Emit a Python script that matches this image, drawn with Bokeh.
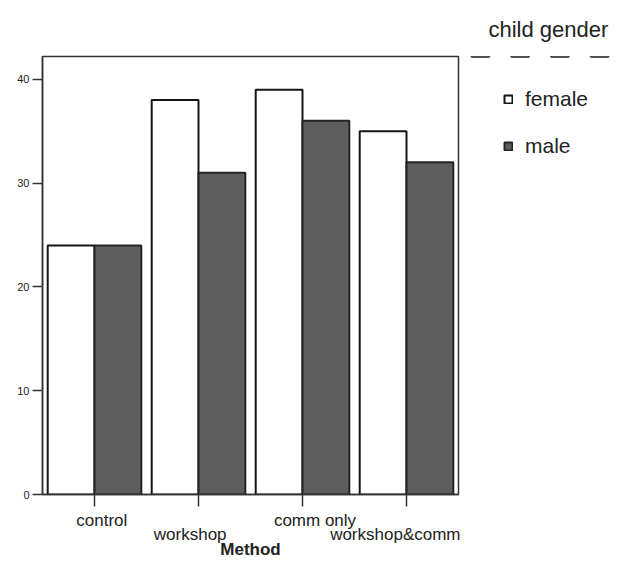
from bokeh.plotting import figure
from bokeh.layouts import row
from bokeh.models import (Range1d, ColumnDataSource, FixedTicker,
                          LinearAxis, Legend, LegendItem, Title)
from bokeh.transform import dodge
from bokeh.embed import file_html
from bokeh.resources import INLINE

# ---- data ----
methods = ["control", "workshop", "comm only", "workshop&comm"]
female = [24, 38, 39, 35]
male = [24, 31, 36, 32]
y_ticks = [0, 10, 20, 30, 40]
legend_title = "child gender"
series_names = ["female", "male"]
x_title = "Method"

FONT = "Liberation Sans"
TXT = "#222222"
H = 561
W_MAIN, W_LEG = 460, 159
F_STYLE = dict(fill_color="white", line_color="#151515", line_width=2)
M_STYLE = dict(fill_color="#5e5e5e", line_color="#252525", line_width=2)

# category slot centres on a unit-width-per-category scale
centers = [i + 0.5 for i in range(len(methods))]
src = ColumnDataSource(dict(method=methods, pos=centers, female=female, male=male))

p = figure(width=W_MAIN, height=H,
           x_range=Range1d(0, len(methods)),
           y_range=Range1d(0, 42.2),
           output_backend="svg", toolbar_location=None,
           min_border_left=42, min_border_right=2,
           min_border_top=54, min_border_bottom=67)

p.xgrid.visible = False
p.ygrid.visible = False
p.outline_line_color = "#333333"
p.outline_line_width = 1.5
p.background_fill_color = "white"
p.border_fill_color = "white"

p.vbar(x=dodge("pos", -0.225), top="female", width=0.45, source=src, **F_STYLE)
p.vbar(x=dodge("pos", 0.225), top="male", width=0.45, source=src, **M_STYLE)

# y axis
ya = p.yaxis[0]
ya.ticker = FixedTicker(ticks=y_ticks)
ya.major_tick_out = 10
ya.major_tick_in = 0
ya.minor_tick_out = 0
ya.minor_tick_in = 0
ya.major_label_text_font = FONT
ya.major_label_text_font_size = "11px"
ya.major_label_text_color = TXT
ya.major_label_standoff = 3
ya.axis_line_color = "#333333"
ya.axis_line_width = 1.5
ya.major_tick_line_color = "#333333"
ya.major_tick_line_width = 1.5

# main x axis: tick marks at category centres only
xa = p.xaxis[0]
xa.ticker = FixedTicker(ticks=centers)
xa.major_tick_out = 12
xa.major_tick_in = 0
xa.minor_tick_out = 0
xa.minor_tick_in = 0
xa.major_label_standoff = 0
xa.major_label_text_font_size = "0px"
xa.major_label_overrides = {c: "" for c in centers}
xa.axis_line_color = "#333333"
xa.axis_line_width = 1.5
xa.major_tick_line_color = "#333333"
xa.major_tick_line_width = 1.5

# staggered category labels on two label rows
nudge = [0.07, -0.08, 0.12, 0.16]   # small horizontal shifts, in category widths
rows = [[0, 2], [1, 3]]
label_axes = []
for r, idx in enumerate(rows):
    ticks = [centers[i] + nudge[i] for i in idx]
    ax = LinearAxis(ticker=FixedTicker(ticks=ticks),
                    major_label_overrides={t: methods[i] for t, i in zip(ticks, idx)},
                    axis_line_color=None, major_tick_line_color=None,
                    minor_tick_line_color=None,
                    major_tick_out=0, major_tick_in=0,
                    minor_tick_out=0, minor_tick_in=0,
                    major_label_standoff=4 if r == 0 else -8,
                    major_label_text_font=FONT,
                    major_label_text_font_size="17px",
                    major_label_text_color=TXT)
    p.add_layout(ax, "below")
    label_axes.append(ax)

lb = label_axes[-1]
lb.axis_label = x_title
lb.axis_label_text_font = FONT
lb.axis_label_text_font_size = "17px"
lb.axis_label_text_font_style = "bold"
lb.axis_label_text_color = TXT
lb.axis_label_standoff = -7

# ---- legend panel to the right of the chart (frame aligned with chart) ----
q = figure(width=W_LEG, height=H, x_range=Range1d(0, len(methods)), y_range=Range1d(-2, -1),
           output_backend="svg", toolbar_location=None,
           x_axis_location=None, y_axis_location=None,
           min_border_left=0, min_border_right=0, min_border_top=54, min_border_bottom=67)
q.xgrid.visible = False
q.ygrid.visible = False
q.outline_line_color = None
q.background_fill_color = "white"
q.border_fill_color = "white"

q.add_layout(Title(text=legend_title, align="left", offset=28, standoff=29,
                   text_font=FONT, text_font_size="22px",
                   text_font_style="normal", text_color=TXT), "above")

# legend swatch renderers (same series, outside this panel's visible range)
lf = q.vbar(x="pos", top="female", width=0.45, source=src, **F_STYLE)
lm = q.vbar(x="pos", top="male", width=0.45, source=src, **M_STYLE)

legend = Legend(items=[LegendItem(label=series_names[0], renderers=[lf]),
                       LegendItem(label=series_names[1], renderers=[lm])],
                location=(43, 336),
                padding=0, margin=0, border_line_color=None,
                background_fill_alpha=0,
                label_text_font=FONT, label_text_font_size="21px",
                label_text_color=TXT,
                glyph_width=10, glyph_height=10, label_standoff=12,
                label_height=24, spacing=23)
q.add_layout(legend, "center")

layout = row(p, q, spacing=0)
open("out.html", "w").write(file_html(layout, INLINE))
